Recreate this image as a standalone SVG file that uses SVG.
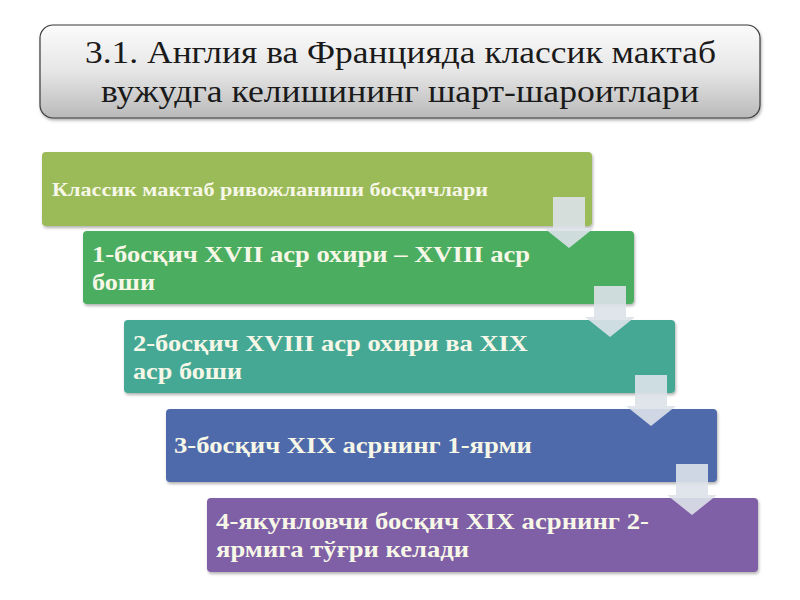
<svg xmlns="http://www.w3.org/2000/svg" width="800" height="600" viewBox="0 0 800 600">
<defs>
<linearGradient id="tg" x1="0" y1="0" x2="0" y2="1">
<stop offset="0" stop-color="#fbfbfb"/>
<stop offset="0.5" stop-color="#e6e6e6"/>
<stop offset="1" stop-color="#b9b9b9"/>
</linearGradient>
<filter id="sh" x="-5%" y="-10%" width="110%" height="130%">
<feDropShadow dx="1" dy="2" stdDeviation="1.5" flood-color="#000" flood-opacity="0.3"/>
</filter>
</defs>
<style>
.title{font-family:"Liberation Serif","Times New Roman",serif;font-size:32px;fill:#1a1a1a}
.bt{font-family:"Liberation Serif","Times New Roman",serif;font-weight:bold;fill:#f7f7e8;font-size:24px}
.box{filter:url(#sh)}
.arr{fill:#dde2ea;fill-opacity:0.9}
</style>
<rect width="800" height="600" fill="#ffffff"/>
<g id="title">
<rect x="40" y="25" width="720" height="93" rx="13" fill="url(#tg)" stroke="#3a3a3a" stroke-width="1.2" class="box"/>
<text class="title" x="85" y="63" textLength="631" lengthAdjust="spacingAndGlyphs">3.1. Англия ва Францияда классик мактаб</text>
<text class="title" x="101" y="102" textLength="598" lengthAdjust="spacingAndGlyphs">вужудга келишининг шарт-шароитлари</text>
</g>
<g id="stage0">
<rect class="box" x="42" y="152" width="550" height="74" rx="4" fill="#9bbb59"/>
<text class="bt" x="52" y="196" style="font-size:19px" textLength="436" lengthAdjust="spacingAndGlyphs">Классик мактаб ривожланиши босқичлари</text>
</g>
<g id="stage1">
<rect class="box" x="83" y="231" width="551" height="73" rx="4" fill="#4cad5e"/>
<text class="bt" x="92" y="262" textLength="438" lengthAdjust="spacingAndGlyphs">1-босқич XVII аср охири – XVIII аср</text>
<text class="bt" x="92" y="290" textLength="63" lengthAdjust="spacingAndGlyphs">боши</text>
</g>
<g id="stage2">
<rect class="box" x="124" y="320" width="551" height="73" rx="4" fill="#45a895"/>
<text class="bt" x="133" y="351" textLength="395" lengthAdjust="spacingAndGlyphs">2-босқич XVIII аср охири ва XIX</text>
<text class="bt" x="133" y="379" textLength="109" lengthAdjust="spacingAndGlyphs">аср боши</text>
</g>
<g id="stage3">
<rect class="box" x="166" y="409" width="551" height="73" rx="4" fill="#4f6aaa"/>
<text class="bt" x="174" y="453" textLength="358" lengthAdjust="spacingAndGlyphs">3-босқич XIX асрнинг 1-ярми</text>
</g>
<g id="stage4">
<rect class="box" x="207" y="498" width="551" height="74" rx="4" fill="#7f5fa6"/>
<text class="bt" x="216" y="529" textLength="433" lengthAdjust="spacingAndGlyphs">4-якунловчи босқич XIX асрнинг 2-</text>
<text class="bt" x="216" y="557" textLength="253" lengthAdjust="spacingAndGlyphs">ярмига тўғри келади</text>
</g>
<g id="connectors">
<path class="arr" d="M553,197 H585 V228 H594 L569,248 L544,228 H553 Z"/>
<path class="arr" d="M594,286 H626 V317 H635 L610,337 L585,317 H594 Z"/>
<path class="arr" d="M635,375 H667 V406 H676 L651,426 L626,406 H635 Z"/>
<path class="arr" d="M676,464 H708 V495 H717 L692,515 L667,495 H676 Z"/>
</g>
</svg>
